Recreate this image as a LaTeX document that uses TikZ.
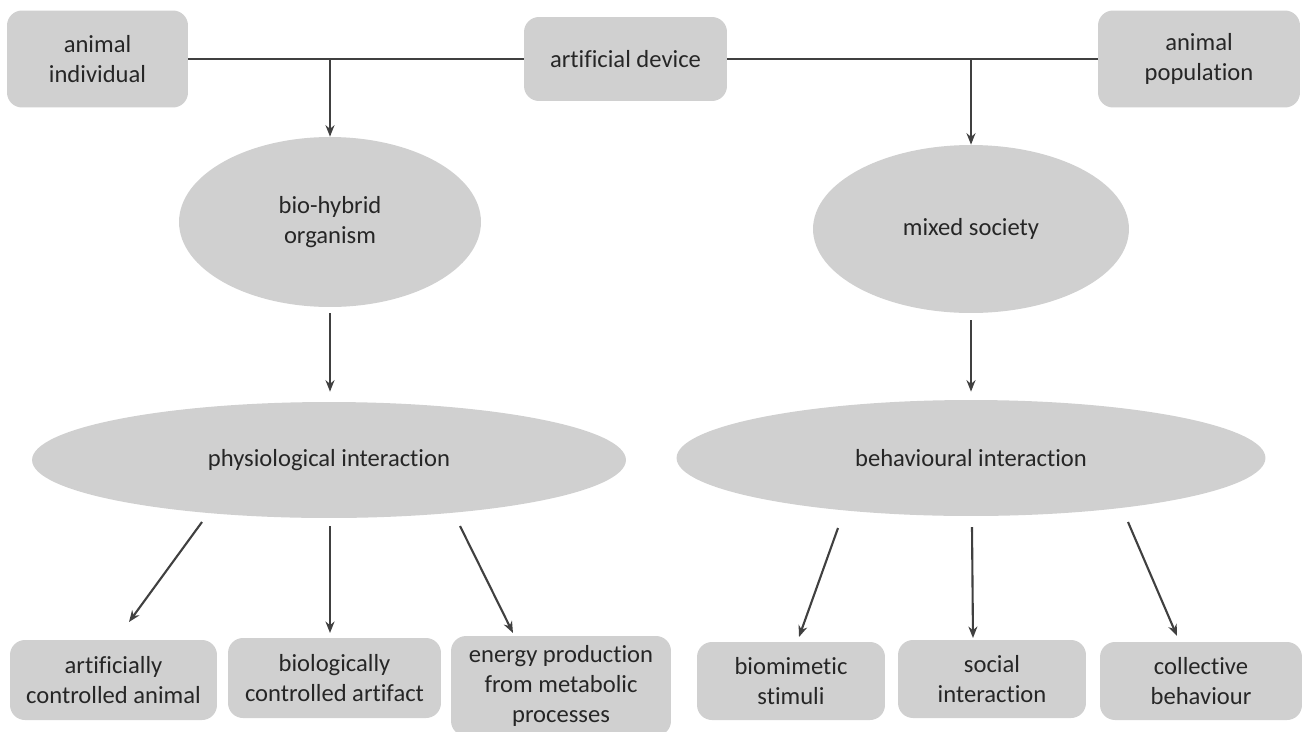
\documentclass[tikz,border=0pt]{standalone}
\usepackage{fontspec}
\setmainfont{Carlito}[Ligatures=NoCommon]
\usepackage{xcolor}
\definecolor{BoxColor}{RGB}{208,208,208}
\definecolor{LineColor}{RGB}{64,64,64}
\definecolor{TextColor}{RGB}{38,38,38}
\usetikzlibrary{positioning, shapes.geometric, arrows.meta}

\begin{document}
\begin{tikzpicture}[
    x=0.02cm, y=-0.02cm,
    box/.style={rectangle, fill=BoxColor, rounded corners=0.3cm, align=center, text=TextColor, font=\fontsize{14}{17}\selectfont, inner sep=2pt},
    oval/.style={ellipse, fill=BoxColor, align=center, text=TextColor, font=\fontsize{14}{17}\selectfont, inner sep=0pt},
    link/.style={draw=LineColor, line width=1.2pt},
    arrow/.style={link, -{Stealth[length=2.3mm, width=1.8mm]}},
]
\useasboundingbox (0,0) rectangle (1309,731);

% ============================================
% TOP ROW
% ============================================
\node[box, minimum width=3.62cm, minimum height=1.94cm] (indiv) at (97.5,59) {animal\\individual};
\node[box, minimum width=4.06cm, minimum height=1.68cm] (device) at (625.5,59) {artificial device};
\node[box, minimum width=4.04cm, minimum height=1.94cm] (popul) at (1199,59) {animal\\population};

% ============================================
% ORGANISM / SOCIETY
% ============================================
\node[oval, minimum width=6.04cm, minimum height=3.4cm] (biohyb) at (330,222) {bio-hybrid\\organism};
\node[oval, minimum width=6.32cm, minimum height=3.36cm] (mixed) at (971,229) {mixed society};

% ============================================
% INTERACTION LEVEL
% ============================================
\node[oval, minimum width=11.88cm, minimum height=2.32cm] (physio) at (329,460) {physiological interaction};
\node[oval, minimum width=11.78cm, minimum height=2.32cm] (behav) at (971,458) {behavioural interaction};

% ============================================
% BOTTOM ROW
% ============================================
\node[box, minimum width=4.14cm, minimum height=1.6cm] (artanimal) at (113.5,680) {artificially\\controlled animal};
\node[box, minimum width=4.26cm, minimum height=1.6cm] (bioartifact) at (334.5,678) {biologically\\controlled artifact};
\node[box, minimum width=4.4cm, minimum height=2cm] (energy) at (561,686) {energy production\\from metabolic\\processes};
\node[box, minimum width=3.76cm, minimum height=1.56cm] (stimuli) at (791,681) {biomimetic\\stimuli};
\node[box, minimum width=3.76cm, minimum height=1.56cm] (social) at (992,679) {social\\interaction};
\node[box, minimum width=4.04cm, minimum height=1.56cm] (collective) at (1201,681) {collective\\behaviour};

% ============================================
% CONNECTORS - top
% ============================================
\draw[link] (indiv.east) -- (device.west);
\draw[link] (device.east) -- (popul.west);
\draw[arrow] (biohyb.north |- indiv.east) -- (biohyb.north);
\draw[arrow] (mixed.north |- popul.west) -- (mixed.north);

% ============================================
% CONNECTORS - middle
% ============================================
\draw[arrow, shorten <=0.12cm, shorten >=0.2cm] (biohyb.south) -- (biohyb.south |- physio.north);
\draw[arrow, shorten <=0.14cm, shorten >=0.16cm] (mixed.south) -- (mixed.south |- behav.north);

% ============================================
% CONNECTORS - bottom
% ============================================
\coordinate (ps1) at (202,522); \coordinate (pe1) at (129,622);
\coordinate (ps2) at (330,526); \coordinate (pe2) at (330,633);
\coordinate (ps3) at (460,526); \coordinate (pe3) at (513,633);
\coordinate (bs1) at (838,528); \coordinate (be1) at (799,637);
\coordinate (bs2) at (972,527); \coordinate (be2) at (973,638);
\coordinate (bs3) at (1128,522); \coordinate (be3) at (1177,636);

\draw[arrow] (ps1) -- (pe1);
\draw[arrow] (ps2) -- (pe2);
\draw[arrow] (ps3) -- (pe3);
\draw[arrow] (bs1) -- (be1);
\draw[arrow] (bs2) -- (be2);
\draw[arrow] (bs3) -- (be3);

\end{tikzpicture}
\end{document}
